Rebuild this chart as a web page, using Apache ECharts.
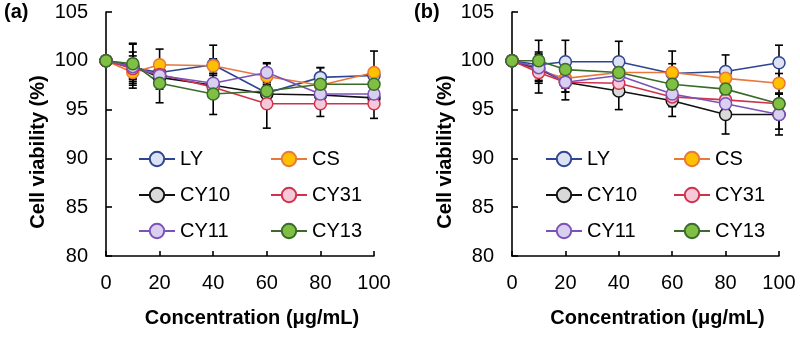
<!DOCTYPE html>
<html>
<head>
<meta charset="utf-8">
<script src="https://cdn.jsdelivr.net/npm/echarts@6/dist/echarts.min.js"></script>
<style>
  html, body { margin: 0; padding: 0; background: #fff; }
  #chart { width: 800px; height: 340px; }
</style>
</head>
<body>
<div id="chart"></div>
<script>
// concentrations (ug/mL)
const xVals = [0, 10, 20, 40, 60, 80, 100]
const seriesNames = ['LY', 'CS', 'CY10', 'CY31', 'CY11', 'CY13']
const yTicks = [80, 85, 90, 95, 100, 105]
const xTicks = [0, 20, 40, 60, 80, 100]

// panel (a) means and SD
const aLY = [100, 99.3, 98.8, 99.6, 96.7, 98.3, 98.5]
const aCS = [100, 98.8, 99.6, 99.5, 98.4, 97.5, 98.8]
const aCY10 = [100, 99.5, 98.3, 97.5, 96.6, 96.5, 96.2]
const aCY31 = [100, 99.2, 98.6, 97.3, 95.6, 95.6, 95.6]
const aCY11 = [100, 99.4, 98.5, 97.7, 98.8, 96.6, 96.6]
const aCY13 = [100, 99.7, 97.7, 96.6, 96.9, 97.6, 97.6]
const aLYsd = [0, 1.2, 0.8, 0.6, 0.8, 1.0, 0.6]
const aCSsd = [0, 1.3, 1.6, 2.1, 1.3, 1.0, 2.2]
const aCY10sd = [0, 2.3, 1.2, 1.0, 1.0, 0.8, 1.0]
const aCY31sd = [0, 1.0, 0.8, 0.8, 2.5, 1.3, 1.5]
const aCY11sd = [0, 1.5, 1.0, 1.0, 1.0, 1.2, 1.0]
const aCY13sd = [0, 2.0, 2.0, 2.1, 1.0, 1.7, 1.0]

// panel (b) means and SD
const bLY = [100, 99.6, 99.9, 99.9, 98.7, 98.9, 99.8]
const bCS = [100, 99.0, 98.2, 98.8, 98.8, 98.2, 97.7]
const bCY10 = [100, 99.2, 97.8, 96.9, 95.9, 94.5, 94.5]
const bCY31 = [100, 98.8, 97.8, 97.7, 96.3, 96.0, 95.6]
const bCY11 = [100, 99.3, 97.8, 98.5, 96.6, 95.6, 94.5]
const bCY13 = [100, 100, 99.1, 98.8, 97.6, 97.1, 95.6]
const bLYsd = [0, 1.0, 2.2, 2.1, 1.0, 1.7, 1.8]
const bCSsd = [0, 1.0, 1.0, 1.0, 2.2, 1.0, 1.0]
const bCY10sd = [0, 1.5, 1.8, 1.9, 1.6, 2.0, 1.5]
const bCY31sd = [0, 2.1, 1.0, 1.0, 1.0, 1.0, 1.0]
const bCY11sd = [0, 1.0, 1.0, 1.0, 1.0, 1.0, 2.1]
const bCY13sd = [0, 2.1, 1.0, 1.0, 1.0, 1.0, 1.0]

const panels = [
  { LY: [aLY, aLYsd], CS: [aCS, aCSsd], CY10: [aCY10, aCY10sd], CY31: [aCY31, aCY31sd], CY11: [aCY11, aCY11sd], CY13: [aCY13, aCY13sd] },
  { LY: [bLY, bLYsd], CS: [bCS, bCSsd], CY10: [bCY10, bCY10sd], CY31: [bCY31, bCY31sd], CY11: [bCY11, bCY11sd], CY13: [bCY13, bCY13sd] },
]

const styles = {
  LY: { line: '#2e4591', face: '#dce2f4' },
  CS: { line: '#e8773a', face: '#ffc000' },
  CY10: { line: '#111111', face: '#d9d9d9' },
  CY31: { line: '#d0324c', face: '#f6c8d8' },
  CY11: { line: '#7b52b8', face: '#d9cff0' },
  CY13: { line: '#3a6b2a', face: '#7fbf44' },
}

const font = 'Arial, "Liberation Sans", sans-serif'

const lineSeries = (name, means, idx) => ({
  name,
  type: 'line',
  xAxisIndex: idx,
  yAxisIndex: idx,
  data: xVals.map((x, i) => [x, means[i]]),
  symbol: 'circle',
  symbolSize: 12,
  lineStyle: { color: styles[name].line, width: 1.6 },
  itemStyle: { color: styles[name].face, borderColor: styles[name].line, borderWidth: 1.5 },
  emphasis: { disabled: true },
  z: 3,
})

const errSeries = (means, sds, idx) => ({
  type: 'custom',
  xAxisIndex: idx,
  yAxisIndex: idx,
  silent: true,
  z: 2,
  data: xVals.map((x, i) => [x, means[i] - sds[i], means[i] + sds[i]]).filter((d) => d[2] > d[1]),
  encode: { x: 0, y: [1, 2] },
  renderItem: (params, api) => {
    const lo = api.coord([api.value(0), api.value(1)])
    const hi = api.coord([api.value(0), api.value(2)])
    const w = 4
    const st = { stroke: '#000', lineWidth: 1.6 }
    return {
      type: 'group',
      children: [
        { type: 'line', shape: { x1: lo[0], y1: lo[1], x2: hi[0], y2: hi[1] }, style: st },
        { type: 'line', shape: { x1: lo[0] - w, y1: lo[1], x2: lo[0] + w, y2: lo[1] }, style: st },
        { type: 'line', shape: { x1: hi[0] - w, y1: hi[1], x2: hi[0] + w, y2: hi[1] }, style: st },
      ],
    }
  },
})

const grids = [
  { left: 106, right: 426, top: 12, bottom: 84 },
  { left: 512, right: 21, top: 12, bottom: 84 },
]

const makeX = (idx) => ({
  type: 'value',
  gridIndex: idx,
  min: xTicks[0],
  max: xTicks[xTicks.length - 1],
  interval: 20,
  name: 'Concentration (μg/mL)',
  nameLocation: 'middle',
  nameGap: 52,
  nameTextStyle: { fontSize: 20, fontWeight: 'bold', color: '#000', fontFamily: font, padding: [0, 0, 0, 24] },
  axisLine: { lineStyle: { color: '#000', width: 1.6 } },
  axisTick: { inside: true, length: 5, lineStyle: { color: '#000', width: 1.6 } },
  axisLabel: { fontSize: 20, color: '#000', fontFamily: font, margin: 17 },
  splitLine: { show: false },
})

const makeY = (idx) => ({
  type: 'value',
  gridIndex: idx,
  min: yTicks[0],
  max: yTicks[yTicks.length - 1],
  interval: 5,
  axisLine: { lineStyle: { color: '#000', width: 1.6 } },
  axisTick: { inside: true, length: 6, lineStyle: { color: '#000', width: 1.6 } },
  axisLabel: { fontSize: 20, color: '#000', fontFamily: font, margin: 18 },
  splitLine: { show: false },
})

const legendLeft = [[133, 265], [540, 668]]
const makeLegends = (idx) => [
  ['LY', 'CY10', 'CY11'],
  ['CS', 'CY31', 'CY13'],
].map((names, col) => ({
  data: names,
  orient: 'vertical',
  left: legendLeft[idx][col],
  top: 144,
  itemWidth: 36,
  itemHeight: 18,
  itemGap: 16,
  selectedMode: false,
  textStyle: { fontSize: 20, color: '#000', fontFamily: font },
}))

const series = []
panels.forEach((panel, idx) => {
  seriesNames.forEach((name) => {
    series.push(errSeries(panel[name][0], panel[name][1], idx))
  })
  seriesNames.forEach((name) => {
    series.push(lineSeries(name, panel[name][0], idx))
  })
})

const yName = (x) => ({
  type: 'text',
  x,
  y: 152,
  rotation: Math.PI / 2,
  style: {
    text: 'Cell viability (%)',
    fontSize: 20,
    fontWeight: 'bold',
    fill: '#000',
    fontFamily: font,
    align: 'center',
    verticalAlign: 'middle',
  },
})

const chart = echarts.init(document.getElementById('chart'))
chart.setOption({
  animation: false,
  backgroundColor: '#fff',
  grid: grids,
  xAxis: [makeX(0), makeX(1)],
  yAxis: [makeY(0), makeY(1)],
  legend: [...makeLegends(0), ...makeLegends(1)],
  graphic: [
    { type: 'text', left: 4, top: 2, style: { text: '(a)', fontSize: 20, fontWeight: 'bold', fill: '#000', fontFamily: font } },
    { type: 'text', left: 414, top: 2, style: { text: '(b)', fontSize: 20, fontWeight: 'bold', fill: '#000', fontFamily: font } },
    yName(38),
    yName(445),
  ],
  series,
})
</script>
</body>
</html>
